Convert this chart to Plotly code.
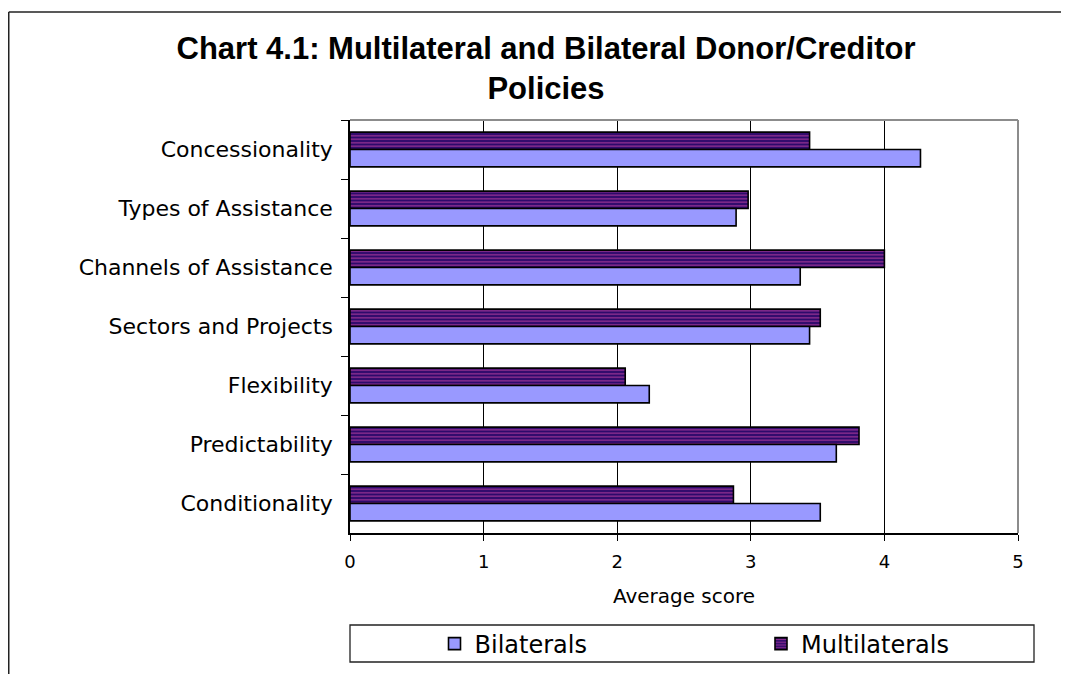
import plotly.graph_objects as go

categories = ["Concessionality", "Types of Assistance", "Channels of Assistance",
              "Sectors and Projects", "Flexibility", "Predictability", "Conditionality"]
bilaterals = [4.27, 2.89, 3.37, 3.44, 2.24, 3.64, 3.52]
multilaterals = [3.44, 2.98, 4.00, 3.52, 2.06, 3.81, 2.87]
x_ticks = [0, 1, 2, 3, 4, 5]

# the page body has an 8px margin: the figure is drawn 8px lower and to the right
OFF = 8
W, H = 1069 - OFF, 674 - OFF
L, R, T, B = 350 - OFF, 1018 - OFF, 120 - OFF, 533 - OFF


def px(x_page):
    return (x_page - OFF - L) / (R - L)


def py(y_page):
    return (B - (y_page - OFF)) / (B - T)


def cx(x_page):
    return (x_page - OFF) / W


def cy(y_page):
    return 1 - (y_page - OFF) / H


fig = go.Figure()
fig.add_trace(go.Bar(
    name="Multilaterals", y=categories, x=multilaterals, orientation="h",
    legend="legend2",
    marker=dict(color="#2d0a6b", line=dict(color="black", width=1.6),
                pattern=dict(shape="-", bgcolor="#2d0a6b", fgcolor="#8f2f8f",
                             size=3.5, solidity=0.4, fillmode="replace")),
))
fig.add_trace(go.Bar(
    name="Bilaterals", y=categories, x=bilaterals, orientation="h",
    legend="legend",
    marker=dict(color="#9999ff", line=dict(color="black", width=1.6)),
))

shapes = [
    # plot area border (top and right, grey)
    dict(type="line", xref="paper", yref="paper", x0=0, x1=1, y0=1, y1=1,
         line=dict(color="#8c8c8c", width=2), layer="above"),
    dict(type="line", xref="paper", yref="paper", x0=1, x1=1, y0=0, y1=1,
         line=dict(color="#8c8c8c", width=2), layer="above"),
    # outer chart frame
    dict(type="line", xref="paper", yref="paper", x0=px(8.75), x1=px(1080),
         y0=py(12), y1=py(12), line=dict(color="#222222", width=1.5)),
    dict(type="line", xref="paper", yref="paper", x0=px(8.75), x1=px(8.75),
         y0=py(12), y1=py(690), line=dict(color="#222222", width=1.5)),
    # legend box
    dict(type="rect", xref="paper", yref="paper", x0=px(350), x1=px(1034),
         y0=py(625), y1=py(662), line=dict(color="#222222", width=1.3)),
]

legend_common = dict(orientation="h", xanchor="left", yanchor="middle",
                     xref="container", yref="container",
                     font=dict(family="DejaVu Sans", size=24, color="black"),
                     bgcolor="rgba(0,0,0,0)", borderwidth=0)

fig.update_layout(
    width=W, height=H, autosize=False,
    margin=dict(l=L, r=W - R, t=T, b=H - B, pad=0),
    paper_bgcolor="white", plot_bgcolor="white",
    font=dict(family="DejaVu Sans", color="black"),
    title=dict(text="<b>Chart 4.1: Multilateral and Bilateral Donor/Creditor<br>Policies</b>",
               font=dict(family="Liberation Sans", size=31, color="black"),
               x=(546 - OFF) / W, xanchor="center", xref="container",
               y=1 - 51 / H, yanchor="middle"),
    barmode="group", bargap=0.41, bargroupgap=0,
    showlegend=True,
    legend=dict(x=cx(434.5), y=cy(644), **legend_common),
    legend2=dict(x=cx(761), y=cy(644), **legend_common),
    xaxis=dict(range=[0, 5], tickvals=x_ticks, ticktext=[str(v) for v in x_ticks],
               showgrid=True, gridcolor="black", gridwidth=1, zeroline=False,
               showline=True, linecolor="black", linewidth=1.5,
               ticks="outside", ticklen=6, tickcolor="black", tickwidth=1,
               tickfont=dict(size=18), ticklabelstandoff=6,
               title=dict(text="Average score", font=dict(size=20), standoff=18),
               fixedrange=True),
    yaxis=dict(autorange="reversed", type="category", tickson="boundaries",
               showgrid=False, showline=True, linecolor="black", linewidth=1.5,
               ticks="outside", ticklen=7, tickcolor="black", tickwidth=1,
               tickfont=dict(size=22), ticklabelstandoff=11, fixedrange=True),
    shapes=shapes,
)

fig.write_html("out.html")
